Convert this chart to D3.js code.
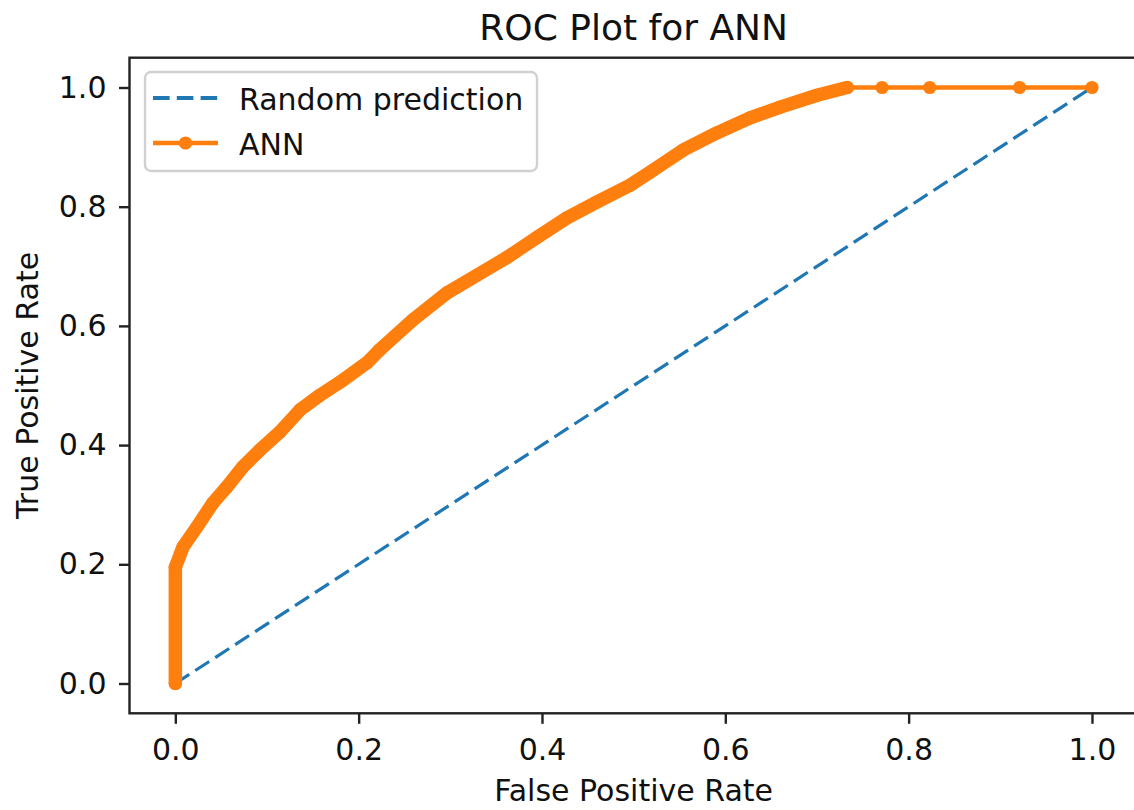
<!DOCTYPE html>
<html>
<head>
<meta charset="utf-8">
<script src="https://cdn.jsdelivr.net/npm/d3@7"></script>
<style>
  body { margin: 0; background: #fff; }
  svg { display: block; font-family: "DejaVu Sans", sans-serif; }
</style>
</head>
<body>
<div id="chart"></div>
<script>
// values
var annFpr = [0, 0, 0.0084, 0.0237, 0.041, 0.0564, 0.074, 0.0925, 0.114, 0.136, 0.158, 0.180,
  0.209, 0.223, 0.259, 0.296, 0.329, 0.362, 0.395, 0.427, 0.460, 0.496, 0.518, 0.554,
  0.591, 0.627, 0.660, 0.700, 0.733, 0.771, 0.823, 0.921, 1.0];
var annTpr = [0, 0.195, 0.229, 0.263, 0.303, 0.330, 0.364, 0.392, 0.422, 0.459, 0.484, 0.506,
  0.538, 0.560, 0.610, 0.655, 0.685, 0.715, 0.749, 0.781, 0.808, 0.836, 0.858, 0.895,
  0.924, 0.949, 0.967, 0.987, 1.0, 1.0, 1.0, 1.0, 1.0];
// the thresholds are packed so tight up to here that the markers form a solid band
var denseUntil = 0.733;
var randomFpr = [0, 1];
var randomTpr = [0, 1];
var xTicks = [0, 0.2, 0.4, 0.6, 0.8, 1.0];
var yTicks = [0, 0.2, 0.4, 0.6, 0.8, 1.0];
var seriesNames = ['Random prediction', 'ANN'];

var blue = '#1f77b4';
var orange = '#ff7f0e';
var ink = '#222';

var width = 1134, height = 810;
// plot frame edges (window.top is taken, hence the prefix)
var frameLeft = 129.5, frameRight = 1137.8, frameTop = 57.7, frameBottom = 713.3;

var svg = d3.select('#chart').append('svg')
  .attr('width', width)
  .attr('height', height);

// matplotlib style 5% margin round the data range
var x = d3.scaleLinear().domain([-0.05, 1.05]).range([frameLeft, frameRight]);
var y = d3.scaleLinear().domain([-0.05, 1.05]).range([frameBottom, frameTop]);

var annData = annFpr.map(function(d, i) { return {x: d, y: annTpr[i]}; });
var randomData = randomFpr.map(function(d, i) { return {x: d, y: randomTpr[i]}; });

var line = d3.line()
  .x(function(d) { return x(d.x); })
  .y(function(d) { return y(d.y); });

// diagonal reference line
svg.append('path')
  .datum(randomData)
  .attr('d', line)
  .attr('fill', 'none')
  .attr('stroke', blue)
  .attr('stroke-width', 3.2)
  .attr('stroke-dasharray', '16.6,7.2');

// dense band of markers
svg.append('path')
  .datum(annData.filter(function(d) { return d.x <= denseUntil; }))
  .attr('d', line)
  .attr('fill', 'none')
  .attr('stroke', orange)
  .attr('stroke-width', 13.5)
  .attr('stroke-linejoin', 'round')
  .attr('stroke-linecap', 'round');

svg.append('path')
  .datum(annData)
  .attr('d', line)
  .attr('fill', 'none')
  .attr('stroke', orange)
  .attr('stroke-width', 4.5);

svg.selectAll('circle.pt')
  .data(annData)
  .enter().append('circle')
  .attr('class', 'pt')
  .attr('cx', function(d) { return x(d.x); })
  .attr('cy', function(d) { return y(d.y); })
  .attr('r', 6.6)
  .attr('fill', orange);

// axes
var fmt = d3.format('.1f');
var xAxis = svg.append('g')
  .attr('transform', 'translate(0,' + frameBottom + ')')
  .call(d3.axisBottom(x).tickValues(xTicks).tickFormat(fmt).tickSize(10.5).tickPadding(15));
var yAxis = svg.append('g')
  .attr('transform', 'translate(' + frameLeft + ',0)')
  .call(d3.axisLeft(y).tickValues(yTicks).tickFormat(fmt).tickSize(10.5).tickPadding(12.5));

[xAxis, yAxis].forEach(function(g) {
  g.select('.domain').remove();
  g.selectAll('.tick line').attr('stroke', ink).attr('stroke-width', 2.4);
  g.selectAll('.tick text')
    .attr('fill', '#111')
    .style('font-family', '"DejaVu Sans", sans-serif')
    .style('font-size', '30px');
});

// spines (right one falls off the picture)
svg.append('rect')
  .attr('x', frameLeft)
  .attr('y', frameTop)
  .attr('width', frameRight - frameLeft)
  .attr('height', frameBottom - frameTop)
  .attr('fill', 'none')
  .attr('stroke', ink)
  .attr('stroke-width', 2.4);

// title and labels
svg.append('text')
  .attr('x', (frameLeft + frameRight) / 2)
  .attr('y', 40)
  .attr('text-anchor', 'middle')
  .attr('fill', '#111')
  .style('font-size', '36px')
  .text('ROC Plot for ANN');

svg.append('text')
  .attr('x', (frameLeft + frameRight) / 2)
  .attr('y', 801)
  .attr('text-anchor', 'middle')
  .attr('fill', '#111')
  .style('font-size', '30px')
  .text('False Positive Rate');

svg.append('text')
  .attr('transform', 'translate(38,' + (frameTop + frameBottom) / 2 + ') rotate(-90)')
  .attr('text-anchor', 'middle')
  .attr('fill', '#111')
  .style('font-size', '30px')
  .text('True Positive Rate');

// legend
var legend = svg.append('g');
legend.append('rect')
  .attr('x', 145)
  .attr('y', 72)
  .attr('width', 392)
  .attr('height', 99)
  .attr('rx', 6)
  .attr('fill', '#fff')
  .attr('fill-opacity', 0.8)
  .attr('stroke', '#d0d0d0')
  .attr('stroke-width', 2.4);

var rowY = [98, 143];
legend.append('line')
  .attr('x1', 153).attr('x2', 218)
  .attr('y1', rowY[0]).attr('y2', rowY[0])
  .attr('stroke', blue)
  .attr('stroke-width', 4)
  .attr('stroke-dasharray', '16.6,7.2');
legend.append('line')
  .attr('x1', 153).attr('x2', 218)
  .attr('y1', rowY[1]).attr('y2', rowY[1])
  .attr('stroke', orange)
  .attr('stroke-width', 4.5);
legend.append('circle')
  .attr('cx', 185.5)
  .attr('cy', rowY[1])
  .attr('r', 6.6)
  .attr('fill', orange);

legend.selectAll('text.lab')
  .data(seriesNames)
  .enter().append('text')
  .attr('class', 'lab')
  .attr('x', 239)
  .attr('y', function(d, i) { return rowY[i] + 12; })
  .attr('fill', '#111')
  .style('font-size', '30px')
  .text(function(d) { return d; });
</script>
</body>
</html>
